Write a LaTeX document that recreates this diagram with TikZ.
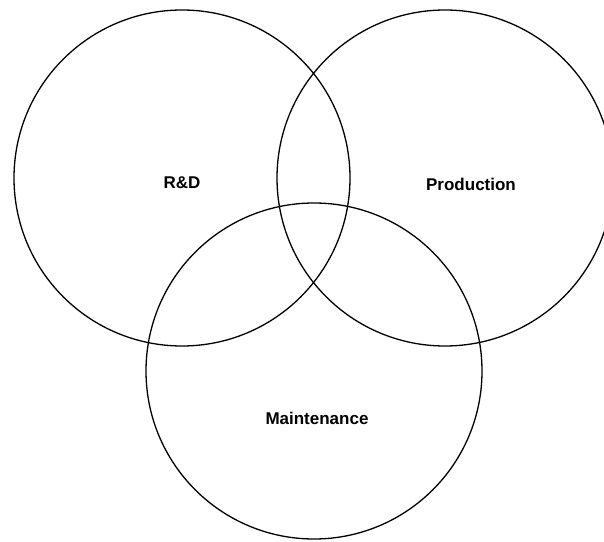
\documentclass[tikz,border=0pt]{standalone}
\usepackage{fontspec}
\setmainfont{Liberation Sans}
\begin{document}
\begin{tikzpicture}[x=1pt,y=1pt,
  ring/.style={circle,draw=black,line width=1.3pt,minimum size=336pt,inner sep=0pt},
  lbl/.style={font=\fontsize{17}{20}\selectfont\bfseries}]
\useasboundingbox (0,0) rectangle (604,541);
\clip (0,0) rectangle (604,541);
\node[ring] (rd) at (182,363) {};
\node[ring] (prod) at (445,363) {};
\node[ring] (maint) at (314,170) {};
\node[lbl] (trd) at (182,358) {R\&D};
\node[lbl] (tprod) at (471,357) {Production};
\node[lbl] (tmaint) at (317,123) {Maintenance};
\end{tikzpicture}
\end{document}
